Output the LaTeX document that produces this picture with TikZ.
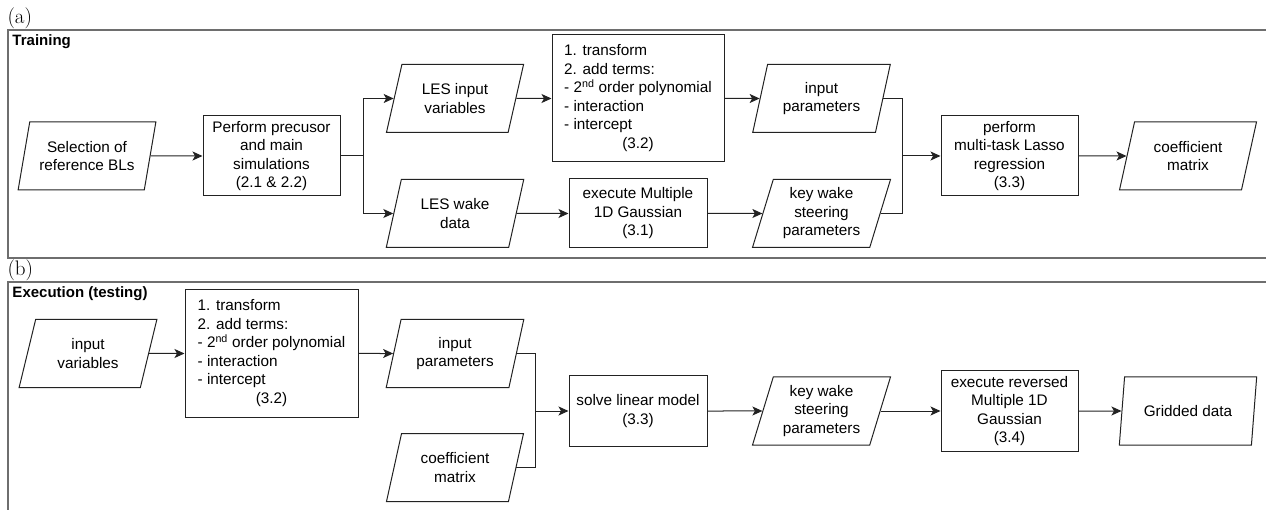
\documentclass[tikz,border=0pt]{standalone}
\usepackage{fontspec}
\setsansfont{Liberation Sans}
\usetikzlibrary{shapes.geometric,arrows.meta}
\definecolor{framegray}{HTML}{6E6E6E}
\definecolor{ink}{HTML}{222222}
\begin{document}
\begin{tikzpicture}[x=1pt,y=-1pt,
  io/.style={trapezium,trapezium left angle=72,trapezium right angle=108,
    trapezium stretches=true,draw,minimum width=138pt,minimum height=68pt,
    align=center,inner sep=0pt,font=\txt},
  proc/.style={rectangle,draw,align=center,inner sep=0pt,font=\txt},
  arr/.style={-{Stealth[length=10pt,width=9pt,inset=2.5pt]}},
  frame/.style={draw=framegray,line width=1.6pt},
  panel/.style={anchor=base west,inner sep=0pt,font=\rmfamily\fontsize{21}{22}\selectfont},
  title/.style={anchor=base west,inner sep=0pt,font=\ttl},
  draw=ink,line width=1pt]
\def\txt{\sffamily\fontsize{15.3}{18.5}\selectfont}
\def\ttl{\sffamily\bfseries\fontsize{15}{18}\selectfont}
\def\terms{\begin{tabular}{@{}l@{}}1. transform\\2. add terms:\\
  - 2\textsuperscript{nd} order polynomial\\- interaction\\- intercept\\
  \multicolumn{1}{@{}c@{}}{(3.2)}\end{tabular}}
\clip (0,0) rectangle (1266,510);
\draw[frame] (8,30) rectangle (1280,258);
\draw[frame] (8,282) rectangle (1280,530);
\node[panel] (la) at (7,24) {(a)};
\node[panel] (lb) at (7,276) {(b)};
\node[title] (ta) at (12,46) {Training};
\node[title] (tb) at (12,298) {Execution (testing)};
% (a) training
\node[io] (sel) at (87,156) {Selection of\\reference BLs};
\node[proc,minimum width=137pt,minimum height=80pt] (perf) at (271.5,156)
  {Perform precusor\\and main\\simulations\\(2.1 \& 2.2)};
\node[io] (lesin) at (455,98.5) {LES input\\variables};
\node[io] (leswake) at (455,213.5) {LES wake\\data};
\node[proc,minimum width=172pt,minimum height=127pt] (trans) at (638,98.5) {\terms};
\node[proc,minimum width=138pt,minimum height=69pt] (gauss) at (638,213.5)
  {execute Multiple\\1D Gaussian\\(3.1)};
\node[io] (inpar) at (821.5,98.5) {input\\parameters};
\node[io] (keyw) at (821.5,213.5) {key wake\\steering\\parameters};
\node[proc,minimum width=137pt,minimum height=80pt] (lasso) at (1009.5,156)
  {perform\\multi-task Lasso\\regression\\(3.3)};
\node[io] (coef) at (1188,156) {coefficient\\matrix};
\coordinate (br) at (363,156);
\coordinate (jn) at (902,156);
\draw[arr] (sel) -- (perf);
\draw (perf) -- (br);
\draw[arr] (br) |- (lesin);
\draw[arr] (br) |- (leswake);
\draw[arr] (lesin) -- (trans);
\draw[arr] (leswake) -- (gauss);
\draw[arr] (trans) -- (inpar);
\draw[arr] (gauss) -- (keyw);
\draw (inpar) -| (jn);
\draw (keyw) -| (jn);
\draw[arr] (jn) -- (lasso);
\draw[arr] (lasso) -- (coef);
% (b) execution
\node[io] (invar) at (88,353.5) {input\\variables};
\node[proc,minimum width=173pt,minimum height=127pt] (trans2) at (271.5,353.5) {\terms};
\node[io] (inpar2) at (455,353.5) {input\\parameters};
\node[io] (coef2) at (455,467.5) {coefficient\\matrix};
\node[proc,minimum width=138pt,minimum height=70pt] (solve) at (638,411)
  {solve linear model\\(3.3)};
\node[io] (keyw2) at (821.5,411) {key wake\\steering\\parameters};
\node[proc,minimum width=137pt,minimum height=81pt] (rev) at (1009.5,411)
  {execute reversed\\Multiple 1D\\Gaussian\\(3.4)};
\node[io] (grid) at (1188,411) {Gridded data};
\coordinate (jn2) at (535,411);
\draw[arr] (invar) -- (trans2);
\draw[arr] (trans2) -- (inpar2);
\draw (inpar2) -| (jn2);
\draw (coef2) -| (jn2);
\draw[arr] (jn2) -- (solve);
\draw[arr] (solve) -- (keyw2);
\draw[arr] (keyw2) -- (rev);
\draw[arr] (rev) -- (grid);
\end{tikzpicture}
\end{document}
